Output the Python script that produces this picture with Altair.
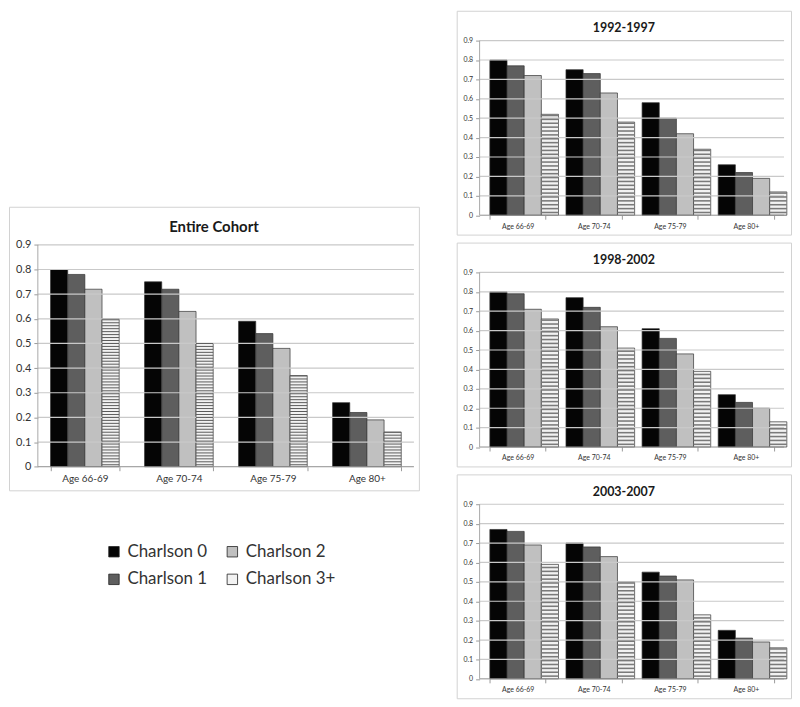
import altair as alt
import pandas as pd

ages = ["Age 66-69", "Age 70-74", "Age 75-79", "Age 80+"]
series = ["Charlson 0", "Charlson 1", "Charlson 2", "Charlson 3+"]
series_colors = ["#050505", "#5e5e5e", "#c0c0c0", "#f2f2f2"]
y_ticks = [0, 0.1, 0.2, 0.3, 0.4, 0.5, 0.6, 0.7, 0.8, 0.9]

entire_c0 = [0.80, 0.75, 0.59, 0.26]
entire_c1 = [0.78, 0.72, 0.54, 0.22]
entire_c2 = [0.72, 0.63, 0.48, 0.19]
entire_c3 = [0.60, 0.50, 0.37, 0.14]

p9297_c0 = [0.80, 0.75, 0.58, 0.26]
p9297_c1 = [0.77, 0.73, 0.50, 0.22]
p9297_c2 = [0.72, 0.63, 0.42, 0.19]
p9297_c3 = [0.52, 0.48, 0.34, 0.12]

p9802_c0 = [0.80, 0.77, 0.61, 0.27]
p9802_c1 = [0.79, 0.72, 0.56, 0.23]
p9802_c2 = [0.71, 0.62, 0.48, 0.20]
p9802_c3 = [0.66, 0.51, 0.39, 0.13]

p0307_c0 = [0.77, 0.70, 0.55, 0.25]
p0307_c1 = [0.76, 0.68, 0.53, 0.21]
p0307_c2 = [0.69, 0.63, 0.51, 0.19]
p0307_c3 = [0.59, 0.50, 0.33, 0.16]

FONT = "Lato"


def panel_df(c0, c1, c2, c3):
    rows = []
    for s, vals in zip(series, [c0, c1, c2, c3]):
        for a, v in zip(ages, vals):
            rows.append({"age": a, "series": s, "value": v})
    return pd.DataFrame(rows)


def panel(df, title, W, H, L, R, B, T, title_size, title_off, lab_size,
          ylab_size, stripe_step, stripe_h, stripe_color, legend):
    unit = (H - B - T) / 0.9
    lo = -B / unit
    hi = 0.9 + T / unit
    yscale = alt.Scale(domain=[lo, hi], nice=False, zero=False)
    xscale = alt.Scale(range=[L, W - R], paddingInner=0.27, paddingOuter=0.135)

    x_axis = alt.Axis(offset=-B, domain=False, tickBand="extent",
                      tickSize=4, tickColor="#9a9a9a", labelAngle=0,
                      labelFontSize=lab_size, labelColor="#333333",
                      labelFont=FONT, labelPadding=3, grid=False, title=None)
    y_axis = alt.Axis(values=y_ticks, offset=-L, domain=False, grid=False,
                      tickSize=4, tickColor="#9a9a9a", format=".1~f",
                      labelOverlap=False, labelBound=False,
                      labelFontSize=ylab_size, labelColor="#333333",
                      labelFont=FONT, labelPadding=3, title=None)

    x_enc = alt.X("age:N", sort=ages, scale=xscale, axis=x_axis)
    xo = alt.XOffset("series:N", sort=series)

    def ycol(field):
        return alt.Y(field, scale=yscale, axis=y_axis, stack=None)

    grid = alt.Chart(pd.DataFrame({"v": y_ticks[1:]})).mark_rule(
        color="#c9c9c9", strokeWidth=1.2
    ).encode(
        y=ycol("v:Q"),
        x=alt.value(L), x2=alt.value(W - R),
    )

    bars = alt.Chart(df).mark_bar(stroke="#333333", strokeWidth=0.7).encode(
        x=x_enc,
        xOffset=xo,
        y=ycol("value:Q"),
        color=alt.Color("series:N",
                        scale=alt.Scale(domain=series, range=series_colors),
                        legend=legend),
    )

    stripes = alt.Chart(df).transform_filter(
        alt.datum.series == "Charlson 3+"
    ).transform_calculate(
        s=f"sequence({stripe_step / 2}, datum.value, {stripe_step})"
    ).transform_flatten(["s"]).transform_calculate(
        s2=f"datum.s + {stripe_h}"
    ).mark_bar(color=stripe_color).encode(
        x=x_enc, xOffset=xo,
        y=ycol("s:Q"), y2="s2:Q",
    )

    base_line = alt.Chart(pd.DataFrame({"v": [0]})).mark_rule(
        color="#8f8f8f", strokeWidth=1
    ).encode(
        y=ycol("v:Q"),
        x=alt.value(L), x2=alt.value(W - R),
    )
    y_line = alt.Chart(pd.DataFrame({"v": [0], "v2": [0.9]})).mark_rule(
        color="#a8a8a8", strokeWidth=1
    ).encode(
        y=ycol("v:Q"), y2="v2:Q",
        x=alt.value(L),
    )

    return alt.layer(bars, grid, stripes, base_line, y_line).properties(
        width=W, height=H,
        title=alt.TitleParams(title, fontSize=title_size, font=FONT,
                              fontWeight="bold", color="#1a1a1a",
                              anchor="middle", offset=title_off),
    )


legend = alt.Legend(orient="none", legendX=97, legendY=338, columns=2,
                    title=None, symbolType="square", symbolSize=110,
                    symbolStrokeColor="#222222", symbolStrokeWidth=0.8,
                    labelFont=FONT, labelFontSize=17, labelColor="#333333",
                    columnPadding=16, rowPadding=10, labelOffset=5)

left = panel(panel_df(entire_c0, entire_c1, entire_c2, entire_c3), "Entire Cohort",
             412, 285, 29, 5, 23.7, 38.3, 15, -28, 10, 11, 0.012, 0.004,
             "#5a5a5a", legend)

rp = dict(W=336, H=225, L=23, R=7, B=19.5, T=30, title_size=12.5, title_off=-24,
          lab_size=7, ylab_size=7, stripe_step=0.02, stripe_h=0.008,
          stripe_color="#7a7a7a", legend=None)
r1 = panel(panel_df(p9297_c0, p9297_c1, p9297_c2, p9297_c3), "1992-1997", **rp)
r2 = panel(panel_df(p9802_c0, p9802_c1, p9802_c2, p9802_c3), "1998-2002", **rp)
r3 = panel(panel_df(p0307_c0, p0307_c1, p0307_c2, p0307_c3), "2003-2007", **rp)

spacer = alt.Chart(pd.DataFrame({"a": [0]})).mark_rule(
    strokeOpacity=0, strokeWidth=0
).encode(
    x=alt.value(2), y=alt.value(2), y2=alt.value(3)
).properties(width=412, height=195,
             view=alt.ViewBackground(stroke="transparent"))

left_col = alt.vconcat(spacer, left, spacing=0).resolve_scale(color="independent")
right_col = alt.vconcat(r1, r2, r3, spacing=6).resolve_scale(color="independent")

chart = alt.hconcat(left_col, right_col, spacing=36).resolve_scale(
    color="independent"
).properties(padding=0).configure_view(
    stroke="#d2d2d2", strokeWidth=1
)

chart.save("out.html", embed_options={"renderer": "svg", "actions": False})
